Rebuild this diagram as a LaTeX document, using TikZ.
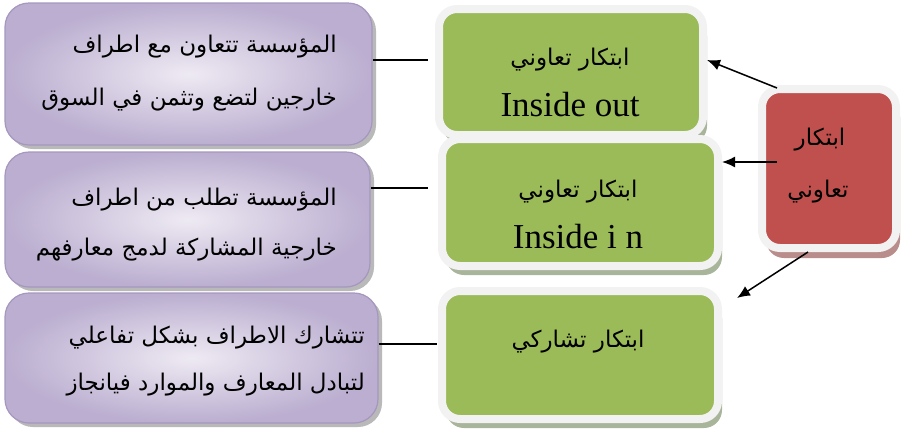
\documentclass[tikz,border=0pt]{standalone}
\usepackage{fontspec}
\setmainfont{Liberation Serif}
\newfontfamily\arabicfont[Script=Arabic]{DejaVu Sans}
\TeXXeTstate=1
\usetikzlibrary{shadows,arrows.meta}
\newcommand{\artxt}[1]{{\arabicfont\beginR #1\endR}}
\definecolor{purpleIn}{HTML}{EEEAF3}
\definecolor{purpleOut}{HTML}{BBAED0}
\definecolor{purpleBorder}{HTML}{A597BE}
\definecolor{greenFill}{HTML}{9BBB59}
\definecolor{greenShadow}{HTML}{A9B59B}
\definecolor{boxRim}{HTML}{F2F2F2}
\definecolor{redFill}{HTML}{C0504D}
\definecolor{redShadow}{HTML}{B98D8B}
\begin{document}
\begin{tikzpicture}[x=1pt,y=-1pt,
  purplebox/.style={rounded corners=24pt, draw=purpleBorder, line width=1.2pt,
    inner color=purpleIn, outer color=purpleOut,
    drop shadow={shadow xshift=4pt, shadow yshift=-4pt, fill=black!55, opacity=0.5}},
  greenbox/.style={rounded corners=18pt, draw=boxRim, line width=8pt, fill=greenFill,
    drop shadow={shadow xshift=4pt, shadow yshift=-9pt, fill=greenShadow, opacity=1}},
  redbox/.style={rounded corners=18pt, draw=boxRim, line width=8pt, fill=redFill,
    drop shadow={shadow xshift=4pt, shadow yshift=-10pt, fill=redShadow, opacity=1}},
  lefttext/.style={inner sep=0pt, anchor=east, font=\fontsize{23}{27}\selectfont},
  midtext/.style={inner sep=0pt, font=\fontsize{23}{27}\selectfont},
  latintext/.style={inner sep=0pt, font=\fontsize{35}{40}\selectfont},
  link/.style={line width=1.2pt, black},
  arrowlink/.style={line width=1.5pt, black, -{Latex[length=13pt,width=11pt]}}
]
\useasboundingbox (0,0) rectangle (901,437);
% left purple boxes
\node[purplebox, minimum width=367pt, minimum height=142pt] (l1) at (188.5,74) {};
\node[purplebox, minimum width=365pt, minimum height=135pt] (l2) at (187.5,219.5) {};
\node[purplebox, minimum width=373pt, minimum height=130pt] (l3) at (191.5,358) {};
\node[lefttext] (t1a) at (337,47) {\artxt{المؤسسة تتعاون مع اطراف}};
\node[lefttext] (t1b) at (337,100) {\artxt{خارجين لتضع وتثمن في السوق}};
\node[lefttext] (t2a) at (337,200) {\artxt{المؤسسة تطلب من اطراف}};
\node[lefttext] (t2b) at (337,250) {\artxt{خارجية المشاركة لدمج معارفهم}};
\node[lefttext] (t3a) at (365,338) {\artxt{تتشارك الاطراف بشكل تفاعلي}};
\node[lefttext] (t3b) at (365,385) {\artxt{لتبادل المعارف والموارد فيانجاز}};
% green boxes
\node[greenbox, minimum width=264pt, minimum height=126pt] (gA) at (571,72) {};
\node[greenbox, minimum width=276pt, minimum height=127pt] (gB) at (580,202.5) {};
\node[greenbox, minimum width=276pt, minimum height=128pt] (gC) at (580,355) {};
\node[midtext] (gAt) at (570,60) {\artxt{ابتكار تعاوني}};
\node[latintext] (gAl) at (570,105) {Inside out};
\node[midtext] (gBt) at (578,192) {\artxt{ابتكار تعاوني}};
\node[latintext] (gBl) at (578,237) {Inside i n};
\node[midtext] (gCt) at (578,342) {\artxt{ابتكار تشاركي}};
% red box
\node[redbox, minimum width=134pt, minimum height=159pt] (r) at (829,168.5) {};
\node[midtext] (rt1) at (820,140) {\artxt{ابتكار}};
\node[midtext] (rt2) at (818,192) {\artxt{تعاوني}};
% connectors
\coordinate (c1) at (428,60);
\coordinate (c2) at (428,188);
\coordinate (c3) at (437,344);
\draw[link] (l1.east |- c1) -- (c1);
\draw[link] (l2.east |- c2) -- (c2);
\draw[link] (l3.east |- c3) -- (c3);
\coordinate (s1) at (777,88);
\coordinate (s2) at (777,162);
\coordinate (e3) at (737,298);
\draw[arrowlink] (s1) -- ([yshift=12pt]gA.east);
\draw[arrowlink] (s2) -- (gB.east |- s2);
\draw[arrowlink] ([xshift=-21pt]r.south) -- (e3);
\end{tikzpicture}
\end{document}
